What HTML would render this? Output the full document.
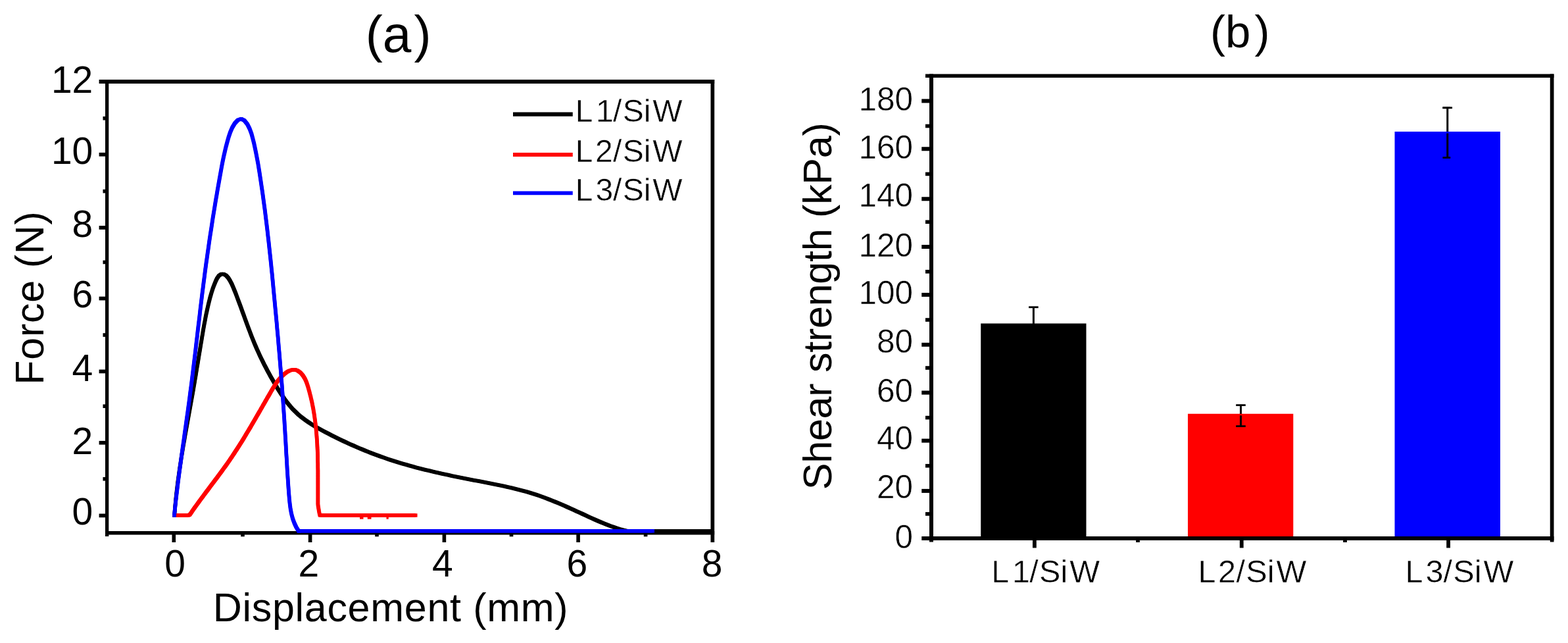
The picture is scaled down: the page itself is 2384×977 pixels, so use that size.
<!DOCTYPE html>
<html lang="en">
<head>
<meta charset="utf-8">
<title>Force-displacement curves and shear strength</title>
<style>
html, body { margin: 0; padding: 0; background: #ffffff; }
body { width: 2384px; height: 977px; overflow: hidden; }
svg { display: block; }
svg text { font-family: "Liberation Sans", "DejaVu Sans", sans-serif; }
</style>
</head>
<body>
<svg width="2384" height="977" viewBox="0 0 2384 977" shape-rendering="geometricPrecision">
<rect x="0" y="0" width="2384" height="977" fill="#ffffff"/>
<g id="chart-a">
<rect x="160.00" y="121.00" width="5.30" height="694.00" fill="#000"/>
<rect x="1080.50" y="121.00" width="5.70" height="703.00" fill="#000"/>
<rect x="150.60" y="121.00" width="935.60" height="6.00" fill="#000"/>
<rect x="160.00" y="807.00" width="926.20" height="5.50" fill="#000"/>
<rect x="150.60" y="780.55" width="9.90" height="5.70" fill="#000"/>
<rect x="156.50" y="724.95" width="4.00" height="5.60" fill="#000"/>
<rect x="150.60" y="669.90" width="9.90" height="5.70" fill="#000"/>
<rect x="156.50" y="614.40" width="4.00" height="5.60" fill="#000"/>
<rect x="150.60" y="561.55" width="9.90" height="5.70" fill="#000"/>
<rect x="156.50" y="506.20" width="4.00" height="5.60" fill="#000"/>
<rect x="150.60" y="450.65" width="9.90" height="5.70" fill="#000"/>
<rect x="156.50" y="395.60" width="4.00" height="5.60" fill="#000"/>
<rect x="150.60" y="343.05" width="9.90" height="5.70" fill="#000"/>
<rect x="156.50" y="287.80" width="4.00" height="5.60" fill="#000"/>
<rect x="150.60" y="231.90" width="9.90" height="5.70" fill="#000"/>
<rect x="156.50" y="176.95" width="4.00" height="5.60" fill="#000"/>
<rect x="261.50" y="812.00" width="5.60" height="12.00" fill="#000"/>
<rect x="366.20" y="812.00" width="5.60" height="3.30" fill="#000"/>
<rect x="468.80" y="812.00" width="5.60" height="12.00" fill="#000"/>
<rect x="570.20" y="812.00" width="5.60" height="3.30" fill="#000"/>
<rect x="672.60" y="812.00" width="5.60" height="12.00" fill="#000"/>
<rect x="774.70" y="812.00" width="5.60" height="3.30" fill="#000"/>
<rect x="876.30" y="812.00" width="5.60" height="12.00" fill="#000"/>
<rect x="978.80" y="812.00" width="5.60" height="3.30" fill="#000"/>
<g fill="none" stroke="#000" stroke-width="3.00" stroke-linejoin="round" stroke-linecap="square">
<polyline points="265.2,783.0 265.6,778.0 266.0,772.9 266.4,767.8 266.9,762.8 267.4,757.7 267.9,752.7 268.5,747.6 269.1,742.6 269.7,737.5 270.3,732.5 271.0,727.5 271.7,722.4 272.4,717.4 273.1,712.4 273.9,707.3 274.7,702.3 275.4,697.3 276.2,692.3 277.1,687.3 277.9,682.3 278.7,677.2 279.6,672.2 280.5,667.2 281.3,662.2 282.2,657.2 283.1,652.2 284.0,647.2 284.9,642.2 285.8,637.2 286.7,632.2 287.6,627.2 288.5,622.2 289.4,617.2 290.3,612.2 291.2,607.2 292.1,602.2 293.0,597.2 293.9,592.2 294.7,587.2 295.6,582.2 296.4,577.2 297.3,572.2 298.1,567.2 298.9,562.2 299.7,557.2 300.6,552.2 301.4,547.2 302.2,542.2 303.0,537.2 303.9,532.1 304.7,527.1 305.5,522.1 306.4,517.1 307.2,512.0 308.1,507.0 308.9,501.9 309.8,496.9 310.7,491.9 311.7,486.9 312.6,481.9 313.6,476.9 314.7,472.0 315.8,467.0 316.9,462.1 318.1,457.3 319.3,452.5 320.7,447.7 322.1,442.9 323.7,438.0 325.6,433.0 327.7,427.8 330.1,422.8 333.0,418.7 336.4,416.5 340.2,416.5 343.9,418.6 347.2,422.4 350.0,426.9 352.4,431.5 354.4,436.2 356.4,441.0 358.3,445.7 360.1,450.5 361.9,455.3 363.7,460.1 365.5,464.9 367.2,469.6 368.9,474.4 370.7,479.2 372.4,484.0 374.2,488.8 375.9,493.5 377.7,498.3 379.5,503.0 381.3,507.8 383.1,512.5 385.0,517.2 386.9,521.8 388.9,526.5 390.9,531.1 393.0,535.7 395.1,540.3 397.3,544.9 399.6,549.5 401.8,554.0 404.2,558.5 406.5,563.0 409.0,567.5 411.4,571.9 413.9,576.3 416.5,580.8 419.1,585.2 421.7,589.6 424.4,593.9 427.1,598.2 430.0,602.4 432.9,606.6 435.9,610.7 439.0,614.6 442.3,618.5 445.6,622.2 449.2,625.7 452.8,629.2 456.6,632.4 460.6,635.5 464.6,638.5 468.8,641.4 473.1,644.2 477.4,646.9 481.8,649.5 486.3,652.0 490.8,654.5 495.3,656.9 499.8,659.2 504.4,661.6 509.0,663.9 513.5,666.1 518.1,668.3 522.7,670.5 527.3,672.7 532.0,674.8 536.6,676.8 541.3,678.9 545.9,680.9 550.6,682.8 555.3,684.8 560.0,686.6 564.7,688.5 569.4,690.3 574.2,692.0 578.9,693.8 583.7,695.4 588.5,697.1 593.3,698.7 598.1,700.3 602.9,701.8 607.7,703.3 612.6,704.7 617.5,706.1 622.4,707.5 627.2,708.8 632.1,710.2 637.1,711.4 642.0,712.7 646.9,713.9 651.9,715.1 656.8,716.3 661.8,717.4 666.7,718.6 671.7,719.7 676.7,720.8 681.7,721.8 686.6,722.9 691.6,723.9 696.6,724.9 701.6,725.9 706.6,726.9 711.6,727.9 716.6,728.9 721.6,729.9 726.6,730.8 731.7,731.8 736.7,732.7 741.7,733.7 746.7,734.7 751.6,735.7 756.6,736.7 761.6,737.7 766.6,738.8 771.5,739.9 776.5,741.0 781.4,742.2 786.3,743.4 791.2,744.7 796.1,746.0 801.0,747.3 805.9,748.8 810.7,750.3 815.5,751.8 820.3,753.4 825.1,755.1 829.8,756.9 834.6,758.7 839.3,760.6 844.0,762.5 848.7,764.4 853.4,766.4 858.1,768.4 862.7,770.5 867.4,772.6 872.0,774.7 876.6,776.8 881.3,778.9 885.9,781.0 890.5,783.2 895.1,785.3 899.7,787.4 904.4,789.5 909.0,791.5 913.7,793.5 918.3,795.4 923.0,797.3 927.8,799.1 932.6,800.8 937.4,802.4 942.2,803.9 947.1,805.3 952.1,806.5 957.2,807.7" transform="translate(-1.3,-1.3)"/>
<polyline points="265.2,783.0 265.6,778.0 266.0,772.9 266.4,767.8 266.9,762.8 267.4,757.7 267.9,752.7 268.5,747.6 269.1,742.6 269.7,737.5 270.3,732.5 271.0,727.5 271.7,722.4 272.4,717.4 273.1,712.4 273.9,707.3 274.7,702.3 275.4,697.3 276.2,692.3 277.1,687.3 277.9,682.3 278.7,677.2 279.6,672.2 280.5,667.2 281.3,662.2 282.2,657.2 283.1,652.2 284.0,647.2 284.9,642.2 285.8,637.2 286.7,632.2 287.6,627.2 288.5,622.2 289.4,617.2 290.3,612.2 291.2,607.2 292.1,602.2 293.0,597.2 293.9,592.2 294.7,587.2 295.6,582.2 296.4,577.2 297.3,572.2 298.1,567.2 298.9,562.2 299.7,557.2 300.6,552.2 301.4,547.2 302.2,542.2 303.0,537.2 303.9,532.1 304.7,527.1 305.5,522.1 306.4,517.1 307.2,512.0 308.1,507.0 308.9,501.9 309.8,496.9 310.7,491.9 311.7,486.9 312.6,481.9 313.6,476.9 314.7,472.0 315.8,467.0 316.9,462.1 318.1,457.3 319.3,452.5 320.7,447.7 322.1,442.9 323.7,438.0 325.6,433.0 327.7,427.8 330.1,422.8 333.0,418.7 336.4,416.5 340.2,416.5 343.9,418.6 347.2,422.4 350.0,426.9 352.4,431.5 354.4,436.2 356.4,441.0 358.3,445.7 360.1,450.5 361.9,455.3 363.7,460.1 365.5,464.9 367.2,469.6 368.9,474.4 370.7,479.2 372.4,484.0 374.2,488.8 375.9,493.5 377.7,498.3 379.5,503.0 381.3,507.8 383.1,512.5 385.0,517.2 386.9,521.8 388.9,526.5 390.9,531.1 393.0,535.7 395.1,540.3 397.3,544.9 399.6,549.5 401.8,554.0 404.2,558.5 406.5,563.0 409.0,567.5 411.4,571.9 413.9,576.3 416.5,580.8 419.1,585.2 421.7,589.6 424.4,593.9 427.1,598.2 430.0,602.4 432.9,606.6 435.9,610.7 439.0,614.6 442.3,618.5 445.6,622.2 449.2,625.7 452.8,629.2 456.6,632.4 460.6,635.5 464.6,638.5 468.8,641.4 473.1,644.2 477.4,646.9 481.8,649.5 486.3,652.0 490.8,654.5 495.3,656.9 499.8,659.2 504.4,661.6 509.0,663.9 513.5,666.1 518.1,668.3 522.7,670.5 527.3,672.7 532.0,674.8 536.6,676.8 541.3,678.9 545.9,680.9 550.6,682.8 555.3,684.8 560.0,686.6 564.7,688.5 569.4,690.3 574.2,692.0 578.9,693.8 583.7,695.4 588.5,697.1 593.3,698.7 598.1,700.3 602.9,701.8 607.7,703.3 612.6,704.7 617.5,706.1 622.4,707.5 627.2,708.8 632.1,710.2 637.1,711.4 642.0,712.7 646.9,713.9 651.9,715.1 656.8,716.3 661.8,717.4 666.7,718.6 671.7,719.7 676.7,720.8 681.7,721.8 686.6,722.9 691.6,723.9 696.6,724.9 701.6,725.9 706.6,726.9 711.6,727.9 716.6,728.9 721.6,729.9 726.6,730.8 731.7,731.8 736.7,732.7 741.7,733.7 746.7,734.7 751.6,735.7 756.6,736.7 761.6,737.7 766.6,738.8 771.5,739.9 776.5,741.0 781.4,742.2 786.3,743.4 791.2,744.7 796.1,746.0 801.0,747.3 805.9,748.8 810.7,750.3 815.5,751.8 820.3,753.4 825.1,755.1 829.8,756.9 834.6,758.7 839.3,760.6 844.0,762.5 848.7,764.4 853.4,766.4 858.1,768.4 862.7,770.5 867.4,772.6 872.0,774.7 876.6,776.8 881.3,778.9 885.9,781.0 890.5,783.2 895.1,785.3 899.7,787.4 904.4,789.5 909.0,791.5 913.7,793.5 918.3,795.4 923.0,797.3 927.8,799.1 932.6,800.8 937.4,802.4 942.2,803.9 947.1,805.3 952.1,806.5 957.2,807.7" transform="translate(1.3,-1.3)"/>
<polyline points="265.2,783.0 265.6,778.0 266.0,772.9 266.4,767.8 266.9,762.8 267.4,757.7 267.9,752.7 268.5,747.6 269.1,742.6 269.7,737.5 270.3,732.5 271.0,727.5 271.7,722.4 272.4,717.4 273.1,712.4 273.9,707.3 274.7,702.3 275.4,697.3 276.2,692.3 277.1,687.3 277.9,682.3 278.7,677.2 279.6,672.2 280.5,667.2 281.3,662.2 282.2,657.2 283.1,652.2 284.0,647.2 284.9,642.2 285.8,637.2 286.7,632.2 287.6,627.2 288.5,622.2 289.4,617.2 290.3,612.2 291.2,607.2 292.1,602.2 293.0,597.2 293.9,592.2 294.7,587.2 295.6,582.2 296.4,577.2 297.3,572.2 298.1,567.2 298.9,562.2 299.7,557.2 300.6,552.2 301.4,547.2 302.2,542.2 303.0,537.2 303.9,532.1 304.7,527.1 305.5,522.1 306.4,517.1 307.2,512.0 308.1,507.0 308.9,501.9 309.8,496.9 310.7,491.9 311.7,486.9 312.6,481.9 313.6,476.9 314.7,472.0 315.8,467.0 316.9,462.1 318.1,457.3 319.3,452.5 320.7,447.7 322.1,442.9 323.7,438.0 325.6,433.0 327.7,427.8 330.1,422.8 333.0,418.7 336.4,416.5 340.2,416.5 343.9,418.6 347.2,422.4 350.0,426.9 352.4,431.5 354.4,436.2 356.4,441.0 358.3,445.7 360.1,450.5 361.9,455.3 363.7,460.1 365.5,464.9 367.2,469.6 368.9,474.4 370.7,479.2 372.4,484.0 374.2,488.8 375.9,493.5 377.7,498.3 379.5,503.0 381.3,507.8 383.1,512.5 385.0,517.2 386.9,521.8 388.9,526.5 390.9,531.1 393.0,535.7 395.1,540.3 397.3,544.9 399.6,549.5 401.8,554.0 404.2,558.5 406.5,563.0 409.0,567.5 411.4,571.9 413.9,576.3 416.5,580.8 419.1,585.2 421.7,589.6 424.4,593.9 427.1,598.2 430.0,602.4 432.9,606.6 435.9,610.7 439.0,614.6 442.3,618.5 445.6,622.2 449.2,625.7 452.8,629.2 456.6,632.4 460.6,635.5 464.6,638.5 468.8,641.4 473.1,644.2 477.4,646.9 481.8,649.5 486.3,652.0 490.8,654.5 495.3,656.9 499.8,659.2 504.4,661.6 509.0,663.9 513.5,666.1 518.1,668.3 522.7,670.5 527.3,672.7 532.0,674.8 536.6,676.8 541.3,678.9 545.9,680.9 550.6,682.8 555.3,684.8 560.0,686.6 564.7,688.5 569.4,690.3 574.2,692.0 578.9,693.8 583.7,695.4 588.5,697.1 593.3,698.7 598.1,700.3 602.9,701.8 607.7,703.3 612.6,704.7 617.5,706.1 622.4,707.5 627.2,708.8 632.1,710.2 637.1,711.4 642.0,712.7 646.9,713.9 651.9,715.1 656.8,716.3 661.8,717.4 666.7,718.6 671.7,719.7 676.7,720.8 681.7,721.8 686.6,722.9 691.6,723.9 696.6,724.9 701.6,725.9 706.6,726.9 711.6,727.9 716.6,728.9 721.6,729.9 726.6,730.8 731.7,731.8 736.7,732.7 741.7,733.7 746.7,734.7 751.6,735.7 756.6,736.7 761.6,737.7 766.6,738.8 771.5,739.9 776.5,741.0 781.4,742.2 786.3,743.4 791.2,744.7 796.1,746.0 801.0,747.3 805.9,748.8 810.7,750.3 815.5,751.8 820.3,753.4 825.1,755.1 829.8,756.9 834.6,758.7 839.3,760.6 844.0,762.5 848.7,764.4 853.4,766.4 858.1,768.4 862.7,770.5 867.4,772.6 872.0,774.7 876.6,776.8 881.3,778.9 885.9,781.0 890.5,783.2 895.1,785.3 899.7,787.4 904.4,789.5 909.0,791.5 913.7,793.5 918.3,795.4 923.0,797.3 927.8,799.1 932.6,800.8 937.4,802.4 942.2,803.9 947.1,805.3 952.1,806.5 957.2,807.7" transform="translate(-1.3,1.3)"/>
<polyline points="265.2,783.0 265.6,778.0 266.0,772.9 266.4,767.8 266.9,762.8 267.4,757.7 267.9,752.7 268.5,747.6 269.1,742.6 269.7,737.5 270.3,732.5 271.0,727.5 271.7,722.4 272.4,717.4 273.1,712.4 273.9,707.3 274.7,702.3 275.4,697.3 276.2,692.3 277.1,687.3 277.9,682.3 278.7,677.2 279.6,672.2 280.5,667.2 281.3,662.2 282.2,657.2 283.1,652.2 284.0,647.2 284.9,642.2 285.8,637.2 286.7,632.2 287.6,627.2 288.5,622.2 289.4,617.2 290.3,612.2 291.2,607.2 292.1,602.2 293.0,597.2 293.9,592.2 294.7,587.2 295.6,582.2 296.4,577.2 297.3,572.2 298.1,567.2 298.9,562.2 299.7,557.2 300.6,552.2 301.4,547.2 302.2,542.2 303.0,537.2 303.9,532.1 304.7,527.1 305.5,522.1 306.4,517.1 307.2,512.0 308.1,507.0 308.9,501.9 309.8,496.9 310.7,491.9 311.7,486.9 312.6,481.9 313.6,476.9 314.7,472.0 315.8,467.0 316.9,462.1 318.1,457.3 319.3,452.5 320.7,447.7 322.1,442.9 323.7,438.0 325.6,433.0 327.7,427.8 330.1,422.8 333.0,418.7 336.4,416.5 340.2,416.5 343.9,418.6 347.2,422.4 350.0,426.9 352.4,431.5 354.4,436.2 356.4,441.0 358.3,445.7 360.1,450.5 361.9,455.3 363.7,460.1 365.5,464.9 367.2,469.6 368.9,474.4 370.7,479.2 372.4,484.0 374.2,488.8 375.9,493.5 377.7,498.3 379.5,503.0 381.3,507.8 383.1,512.5 385.0,517.2 386.9,521.8 388.9,526.5 390.9,531.1 393.0,535.7 395.1,540.3 397.3,544.9 399.6,549.5 401.8,554.0 404.2,558.5 406.5,563.0 409.0,567.5 411.4,571.9 413.9,576.3 416.5,580.8 419.1,585.2 421.7,589.6 424.4,593.9 427.1,598.2 430.0,602.4 432.9,606.6 435.9,610.7 439.0,614.6 442.3,618.5 445.6,622.2 449.2,625.7 452.8,629.2 456.6,632.4 460.6,635.5 464.6,638.5 468.8,641.4 473.1,644.2 477.4,646.9 481.8,649.5 486.3,652.0 490.8,654.5 495.3,656.9 499.8,659.2 504.4,661.6 509.0,663.9 513.5,666.1 518.1,668.3 522.7,670.5 527.3,672.7 532.0,674.8 536.6,676.8 541.3,678.9 545.9,680.9 550.6,682.8 555.3,684.8 560.0,686.6 564.7,688.5 569.4,690.3 574.2,692.0 578.9,693.8 583.7,695.4 588.5,697.1 593.3,698.7 598.1,700.3 602.9,701.8 607.7,703.3 612.6,704.7 617.5,706.1 622.4,707.5 627.2,708.8 632.1,710.2 637.1,711.4 642.0,712.7 646.9,713.9 651.9,715.1 656.8,716.3 661.8,717.4 666.7,718.6 671.7,719.7 676.7,720.8 681.7,721.8 686.6,722.9 691.6,723.9 696.6,724.9 701.6,725.9 706.6,726.9 711.6,727.9 716.6,728.9 721.6,729.9 726.6,730.8 731.7,731.8 736.7,732.7 741.7,733.7 746.7,734.7 751.6,735.7 756.6,736.7 761.6,737.7 766.6,738.8 771.5,739.9 776.5,741.0 781.4,742.2 786.3,743.4 791.2,744.7 796.1,746.0 801.0,747.3 805.9,748.8 810.7,750.3 815.5,751.8 820.3,753.4 825.1,755.1 829.8,756.9 834.6,758.7 839.3,760.6 844.0,762.5 848.7,764.4 853.4,766.4 858.1,768.4 862.7,770.5 867.4,772.6 872.0,774.7 876.6,776.8 881.3,778.9 885.9,781.0 890.5,783.2 895.1,785.3 899.7,787.4 904.4,789.5 909.0,791.5 913.7,793.5 918.3,795.4 923.0,797.3 927.8,799.1 932.6,800.8 937.4,802.4 942.2,803.9 947.1,805.3 952.1,806.5 957.2,807.7" transform="translate(1.3,1.3)"/>
</g>
<g fill="none" stroke="#000" stroke-width="3.00" stroke-linejoin="round" stroke-linecap="square">
<polyline points="990.0,807.0 1083.0,807.0" transform="translate(-1.3,-1.3)"/>
<polyline points="990.0,807.0 1083.0,807.0" transform="translate(1.3,-1.3)"/>
<polyline points="990.0,807.0 1083.0,807.0" transform="translate(-1.3,1.3)"/>
<polyline points="990.0,807.0 1083.0,807.0" transform="translate(1.3,1.3)"/>
</g>
<g fill="none" stroke="#ff0000" stroke-width="3.00" stroke-linejoin="round" stroke-linecap="square">
<polyline points="265.0,783.0 286.5,783.0 288.6,782.0 290.5,779.3 292.3,776.6 294.2,773.9 296.1,771.3 298.0,768.6 300.0,765.9 301.9,763.3 303.8,760.6 305.8,757.9 307.8,755.3 309.7,752.6 311.7,750.0 313.7,747.3 315.7,744.7 317.7,742.0 319.6,739.4 321.6,736.8 323.6,734.1 325.6,731.5 327.6,728.8 329.6,726.2 331.6,723.5 333.5,720.9 335.5,718.2 337.5,715.5 339.4,712.9 341.3,710.2 343.3,707.5 345.2,704.8 347.1,702.1 349.0,699.4 350.8,696.7 352.7,694.0 354.5,691.2 356.3,688.5 358.1,685.7 359.9,683.0 361.7,680.2 363.5,677.4 365.2,674.7 367.0,671.9 368.7,669.1 370.4,666.3 372.1,663.5 373.8,660.7 375.5,657.8 377.2,655.0 378.9,652.2 380.6,649.4 382.2,646.5 383.9,643.7 385.6,640.8 387.2,638.0 388.9,635.1 390.5,632.3 392.2,629.4 393.8,626.6 395.5,623.7 397.1,620.8 398.8,618.0 400.4,615.1 402.1,612.2 403.7,609.4 405.4,606.5 407.0,603.6 408.7,600.8 410.4,597.9 412.0,595.0 413.7,592.2 415.4,589.3 417.2,586.5 419.0,583.7 420.8,580.9 422.8,578.2 424.9,575.7 427.1,573.2 429.5,570.8 432.0,568.5 434.7,566.4 437.6,564.5 440.5,563.1 443.4,562.1 446.3,561.7 449.2,561.9 451.9,562.9 454.4,564.4 456.9,566.3 459.1,568.7 461.1,571.3 462.8,574.1 464.4,577.1 465.7,580.2 466.9,583.4 467.9,586.6 468.9,589.8 469.8,593.1 470.7,596.3 471.5,599.6 472.4,602.9 473.1,606.1 473.9,609.4 474.6,612.6 475.2,615.9 475.9,619.1 476.5,622.4 477.0,625.6 477.6,628.9 478.1,632.2 478.5,635.4 479.0,638.7 479.4,641.9 479.8,645.2 480.2,648.5 480.5,651.7 480.8,655.0 481.1,658.3 481.4,661.5 481.6,664.8 481.9,668.1 482.1,671.4 482.3,674.6 482.4,677.9 482.6,681.2 482.7,684.5 482.9,687.7 483.0,691.0 483.1,694.3 483.1,697.6 483.2,700.9 483.3,704.2 483.3,707.5 483.3,710.8 483.4,714.0 483.4,717.3 483.4,720.6 483.4,724.0 483.4,727.3 483.4,730.6 483.4,733.9 483.4,737.2 483.4,740.5 483.4,743.8 483.4,747.1 483.4,750.5 483.4,753.8 483.4,757.1 483.4,760.4 483.4,763.8 483.4,767.1 485.2,778.0 486.3,783.0 631.7,783.0" transform="translate(-1.3,-1.3)"/>
<polyline points="265.0,783.0 286.5,783.0 288.6,782.0 290.5,779.3 292.3,776.6 294.2,773.9 296.1,771.3 298.0,768.6 300.0,765.9 301.9,763.3 303.8,760.6 305.8,757.9 307.8,755.3 309.7,752.6 311.7,750.0 313.7,747.3 315.7,744.7 317.7,742.0 319.6,739.4 321.6,736.8 323.6,734.1 325.6,731.5 327.6,728.8 329.6,726.2 331.6,723.5 333.5,720.9 335.5,718.2 337.5,715.5 339.4,712.9 341.3,710.2 343.3,707.5 345.2,704.8 347.1,702.1 349.0,699.4 350.8,696.7 352.7,694.0 354.5,691.2 356.3,688.5 358.1,685.7 359.9,683.0 361.7,680.2 363.5,677.4 365.2,674.7 367.0,671.9 368.7,669.1 370.4,666.3 372.1,663.5 373.8,660.7 375.5,657.8 377.2,655.0 378.9,652.2 380.6,649.4 382.2,646.5 383.9,643.7 385.6,640.8 387.2,638.0 388.9,635.1 390.5,632.3 392.2,629.4 393.8,626.6 395.5,623.7 397.1,620.8 398.8,618.0 400.4,615.1 402.1,612.2 403.7,609.4 405.4,606.5 407.0,603.6 408.7,600.8 410.4,597.9 412.0,595.0 413.7,592.2 415.4,589.3 417.2,586.5 419.0,583.7 420.8,580.9 422.8,578.2 424.9,575.7 427.1,573.2 429.5,570.8 432.0,568.5 434.7,566.4 437.6,564.5 440.5,563.1 443.4,562.1 446.3,561.7 449.2,561.9 451.9,562.9 454.4,564.4 456.9,566.3 459.1,568.7 461.1,571.3 462.8,574.1 464.4,577.1 465.7,580.2 466.9,583.4 467.9,586.6 468.9,589.8 469.8,593.1 470.7,596.3 471.5,599.6 472.4,602.9 473.1,606.1 473.9,609.4 474.6,612.6 475.2,615.9 475.9,619.1 476.5,622.4 477.0,625.6 477.6,628.9 478.1,632.2 478.5,635.4 479.0,638.7 479.4,641.9 479.8,645.2 480.2,648.5 480.5,651.7 480.8,655.0 481.1,658.3 481.4,661.5 481.6,664.8 481.9,668.1 482.1,671.4 482.3,674.6 482.4,677.9 482.6,681.2 482.7,684.5 482.9,687.7 483.0,691.0 483.1,694.3 483.1,697.6 483.2,700.9 483.3,704.2 483.3,707.5 483.3,710.8 483.4,714.0 483.4,717.3 483.4,720.6 483.4,724.0 483.4,727.3 483.4,730.6 483.4,733.9 483.4,737.2 483.4,740.5 483.4,743.8 483.4,747.1 483.4,750.5 483.4,753.8 483.4,757.1 483.4,760.4 483.4,763.8 483.4,767.1 485.2,778.0 486.3,783.0 631.7,783.0" transform="translate(1.3,-1.3)"/>
<polyline points="265.0,783.0 286.5,783.0 288.6,782.0 290.5,779.3 292.3,776.6 294.2,773.9 296.1,771.3 298.0,768.6 300.0,765.9 301.9,763.3 303.8,760.6 305.8,757.9 307.8,755.3 309.7,752.6 311.7,750.0 313.7,747.3 315.7,744.7 317.7,742.0 319.6,739.4 321.6,736.8 323.6,734.1 325.6,731.5 327.6,728.8 329.6,726.2 331.6,723.5 333.5,720.9 335.5,718.2 337.5,715.5 339.4,712.9 341.3,710.2 343.3,707.5 345.2,704.8 347.1,702.1 349.0,699.4 350.8,696.7 352.7,694.0 354.5,691.2 356.3,688.5 358.1,685.7 359.9,683.0 361.7,680.2 363.5,677.4 365.2,674.7 367.0,671.9 368.7,669.1 370.4,666.3 372.1,663.5 373.8,660.7 375.5,657.8 377.2,655.0 378.9,652.2 380.6,649.4 382.2,646.5 383.9,643.7 385.6,640.8 387.2,638.0 388.9,635.1 390.5,632.3 392.2,629.4 393.8,626.6 395.5,623.7 397.1,620.8 398.8,618.0 400.4,615.1 402.1,612.2 403.7,609.4 405.4,606.5 407.0,603.6 408.7,600.8 410.4,597.9 412.0,595.0 413.7,592.2 415.4,589.3 417.2,586.5 419.0,583.7 420.8,580.9 422.8,578.2 424.9,575.7 427.1,573.2 429.5,570.8 432.0,568.5 434.7,566.4 437.6,564.5 440.5,563.1 443.4,562.1 446.3,561.7 449.2,561.9 451.9,562.9 454.4,564.4 456.9,566.3 459.1,568.7 461.1,571.3 462.8,574.1 464.4,577.1 465.7,580.2 466.9,583.4 467.9,586.6 468.9,589.8 469.8,593.1 470.7,596.3 471.5,599.6 472.4,602.9 473.1,606.1 473.9,609.4 474.6,612.6 475.2,615.9 475.9,619.1 476.5,622.4 477.0,625.6 477.6,628.9 478.1,632.2 478.5,635.4 479.0,638.7 479.4,641.9 479.8,645.2 480.2,648.5 480.5,651.7 480.8,655.0 481.1,658.3 481.4,661.5 481.6,664.8 481.9,668.1 482.1,671.4 482.3,674.6 482.4,677.9 482.6,681.2 482.7,684.5 482.9,687.7 483.0,691.0 483.1,694.3 483.1,697.6 483.2,700.9 483.3,704.2 483.3,707.5 483.3,710.8 483.4,714.0 483.4,717.3 483.4,720.6 483.4,724.0 483.4,727.3 483.4,730.6 483.4,733.9 483.4,737.2 483.4,740.5 483.4,743.8 483.4,747.1 483.4,750.5 483.4,753.8 483.4,757.1 483.4,760.4 483.4,763.8 483.4,767.1 485.2,778.0 486.3,783.0 631.7,783.0" transform="translate(-1.3,1.3)"/>
<polyline points="265.0,783.0 286.5,783.0 288.6,782.0 290.5,779.3 292.3,776.6 294.2,773.9 296.1,771.3 298.0,768.6 300.0,765.9 301.9,763.3 303.8,760.6 305.8,757.9 307.8,755.3 309.7,752.6 311.7,750.0 313.7,747.3 315.7,744.7 317.7,742.0 319.6,739.4 321.6,736.8 323.6,734.1 325.6,731.5 327.6,728.8 329.6,726.2 331.6,723.5 333.5,720.9 335.5,718.2 337.5,715.5 339.4,712.9 341.3,710.2 343.3,707.5 345.2,704.8 347.1,702.1 349.0,699.4 350.8,696.7 352.7,694.0 354.5,691.2 356.3,688.5 358.1,685.7 359.9,683.0 361.7,680.2 363.5,677.4 365.2,674.7 367.0,671.9 368.7,669.1 370.4,666.3 372.1,663.5 373.8,660.7 375.5,657.8 377.2,655.0 378.9,652.2 380.6,649.4 382.2,646.5 383.9,643.7 385.6,640.8 387.2,638.0 388.9,635.1 390.5,632.3 392.2,629.4 393.8,626.6 395.5,623.7 397.1,620.8 398.8,618.0 400.4,615.1 402.1,612.2 403.7,609.4 405.4,606.5 407.0,603.6 408.7,600.8 410.4,597.9 412.0,595.0 413.7,592.2 415.4,589.3 417.2,586.5 419.0,583.7 420.8,580.9 422.8,578.2 424.9,575.7 427.1,573.2 429.5,570.8 432.0,568.5 434.7,566.4 437.6,564.5 440.5,563.1 443.4,562.1 446.3,561.7 449.2,561.9 451.9,562.9 454.4,564.4 456.9,566.3 459.1,568.7 461.1,571.3 462.8,574.1 464.4,577.1 465.7,580.2 466.9,583.4 467.9,586.6 468.9,589.8 469.8,593.1 470.7,596.3 471.5,599.6 472.4,602.9 473.1,606.1 473.9,609.4 474.6,612.6 475.2,615.9 475.9,619.1 476.5,622.4 477.0,625.6 477.6,628.9 478.1,632.2 478.5,635.4 479.0,638.7 479.4,641.9 479.8,645.2 480.2,648.5 480.5,651.7 480.8,655.0 481.1,658.3 481.4,661.5 481.6,664.8 481.9,668.1 482.1,671.4 482.3,674.6 482.4,677.9 482.6,681.2 482.7,684.5 482.9,687.7 483.0,691.0 483.1,694.3 483.1,697.6 483.2,700.9 483.3,704.2 483.3,707.5 483.3,710.8 483.4,714.0 483.4,717.3 483.4,720.6 483.4,724.0 483.4,727.3 483.4,730.6 483.4,733.9 483.4,737.2 483.4,740.5 483.4,743.8 483.4,747.1 483.4,750.5 483.4,753.8 483.4,757.1 483.4,760.4 483.4,763.8 483.4,767.1 485.2,778.0 486.3,783.0 631.7,783.0" transform="translate(1.3,1.3)"/>
</g>
<g fill="none" stroke="#0000ff" stroke-width="3.00" stroke-linejoin="round" stroke-linecap="square">
<polyline points="265.0,783.0 265.7,775.6 266.5,768.2 267.3,760.8 268.2,753.4 269.1,746.1 270.0,738.7 270.9,731.3 271.8,723.9 272.8,716.5 273.8,709.2 274.8,701.8 275.8,694.4 276.8,687.0 277.8,679.6 278.9,672.3 279.9,664.9 280.9,657.5 282.0,650.1 283.0,642.7 284.0,635.4 285.1,628.0 286.1,620.6 287.1,613.2 288.1,605.9 289.0,598.5 290.0,591.1 291.0,583.7 291.9,576.3 292.8,569.0 293.7,561.6 294.6,554.2 295.5,546.8 296.4,539.4 297.3,532.1 298.1,524.7 299.0,517.3 299.9,509.9 300.7,502.5 301.6,495.1 302.5,487.8 303.4,480.4 304.2,473.0 305.1,465.6 306.0,458.2 306.9,450.8 307.8,443.4 308.8,436.0 309.7,428.6 310.7,421.3 311.6,413.9 312.6,406.5 313.6,399.1 314.7,391.7 315.7,384.3 316.8,376.9 317.8,369.5 318.9,362.1 320.0,354.7 321.2,347.4 322.3,340.0 323.4,332.6 324.6,325.3 325.8,318.0 327.0,310.6 328.2,303.3 329.5,296.0 330.7,288.7 332.0,281.4 333.3,274.1 334.6,266.9 335.9,259.6 337.2,252.4 338.6,245.1 340.1,237.9 341.8,230.5 343.5,223.2 345.5,215.8 347.6,208.3 350.1,200.9 353.1,193.8 357.0,187.4 361.7,182.4 366.7,180.6 371.7,183.2 376.1,188.8 379.6,195.7 382.3,203.0 384.3,210.4 386.2,217.9 387.8,225.3 389.3,232.7 390.7,240.0 392.1,247.3 393.3,254.6 394.5,261.9 395.6,269.2 396.7,276.5 397.8,283.9 398.9,291.2 399.9,298.5 400.9,305.9 401.9,313.2 402.9,320.6 403.8,328.0 404.7,335.3 405.6,342.7 406.5,350.1 407.3,357.5 408.2,364.9 409.0,372.3 409.8,379.7 410.6,387.1 411.4,394.5 412.2,402.0 412.9,409.4 413.7,416.8 414.4,424.2 415.1,431.6 415.8,439.1 416.5,446.5 417.2,453.9 417.9,461.3 418.6,468.8 419.3,476.2 420.0,483.6 420.7,491.0 421.3,498.4 422.0,505.9 422.7,513.3 423.3,520.7 423.9,528.1 424.6,535.5 425.2,542.9 425.8,550.3 426.4,557.8 427.0,565.2 427.6,572.6 428.2,580.0 428.8,587.4 429.3,594.8 429.8,602.2 430.4,609.6 430.9,617.1 431.4,624.5 431.9,631.9 432.4,639.3 432.8,646.7 433.3,654.1 433.7,661.5 434.2,669.0 434.6,676.4 435.0,683.8 435.4,691.2 435.9,698.7 436.3,706.1 436.7,713.6 437.2,721.0 437.7,728.5 438.2,736.0 438.7,743.5 439.3,751.0 439.9,758.5 440.7,765.9 441.7,773.3 443.1,780.6 444.9,787.6 447.4,794.5 450.4,801.0 454.3,807.3 456.0,806.8 992.2,806.8" transform="translate(-1.3,-1.3)"/>
<polyline points="265.0,783.0 265.7,775.6 266.5,768.2 267.3,760.8 268.2,753.4 269.1,746.1 270.0,738.7 270.9,731.3 271.8,723.9 272.8,716.5 273.8,709.2 274.8,701.8 275.8,694.4 276.8,687.0 277.8,679.6 278.9,672.3 279.9,664.9 280.9,657.5 282.0,650.1 283.0,642.7 284.0,635.4 285.1,628.0 286.1,620.6 287.1,613.2 288.1,605.9 289.0,598.5 290.0,591.1 291.0,583.7 291.9,576.3 292.8,569.0 293.7,561.6 294.6,554.2 295.5,546.8 296.4,539.4 297.3,532.1 298.1,524.7 299.0,517.3 299.9,509.9 300.7,502.5 301.6,495.1 302.5,487.8 303.4,480.4 304.2,473.0 305.1,465.6 306.0,458.2 306.9,450.8 307.8,443.4 308.8,436.0 309.7,428.6 310.7,421.3 311.6,413.9 312.6,406.5 313.6,399.1 314.7,391.7 315.7,384.3 316.8,376.9 317.8,369.5 318.9,362.1 320.0,354.7 321.2,347.4 322.3,340.0 323.4,332.6 324.6,325.3 325.8,318.0 327.0,310.6 328.2,303.3 329.5,296.0 330.7,288.7 332.0,281.4 333.3,274.1 334.6,266.9 335.9,259.6 337.2,252.4 338.6,245.1 340.1,237.9 341.8,230.5 343.5,223.2 345.5,215.8 347.6,208.3 350.1,200.9 353.1,193.8 357.0,187.4 361.7,182.4 366.7,180.6 371.7,183.2 376.1,188.8 379.6,195.7 382.3,203.0 384.3,210.4 386.2,217.9 387.8,225.3 389.3,232.7 390.7,240.0 392.1,247.3 393.3,254.6 394.5,261.9 395.6,269.2 396.7,276.5 397.8,283.9 398.9,291.2 399.9,298.5 400.9,305.9 401.9,313.2 402.9,320.6 403.8,328.0 404.7,335.3 405.6,342.7 406.5,350.1 407.3,357.5 408.2,364.9 409.0,372.3 409.8,379.7 410.6,387.1 411.4,394.5 412.2,402.0 412.9,409.4 413.7,416.8 414.4,424.2 415.1,431.6 415.8,439.1 416.5,446.5 417.2,453.9 417.9,461.3 418.6,468.8 419.3,476.2 420.0,483.6 420.7,491.0 421.3,498.4 422.0,505.9 422.7,513.3 423.3,520.7 423.9,528.1 424.6,535.5 425.2,542.9 425.8,550.3 426.4,557.8 427.0,565.2 427.6,572.6 428.2,580.0 428.8,587.4 429.3,594.8 429.8,602.2 430.4,609.6 430.9,617.1 431.4,624.5 431.9,631.9 432.4,639.3 432.8,646.7 433.3,654.1 433.7,661.5 434.2,669.0 434.6,676.4 435.0,683.8 435.4,691.2 435.9,698.7 436.3,706.1 436.7,713.6 437.2,721.0 437.7,728.5 438.2,736.0 438.7,743.5 439.3,751.0 439.9,758.5 440.7,765.9 441.7,773.3 443.1,780.6 444.9,787.6 447.4,794.5 450.4,801.0 454.3,807.3 456.0,806.8 992.2,806.8" transform="translate(1.3,-1.3)"/>
<polyline points="265.0,783.0 265.7,775.6 266.5,768.2 267.3,760.8 268.2,753.4 269.1,746.1 270.0,738.7 270.9,731.3 271.8,723.9 272.8,716.5 273.8,709.2 274.8,701.8 275.8,694.4 276.8,687.0 277.8,679.6 278.9,672.3 279.9,664.9 280.9,657.5 282.0,650.1 283.0,642.7 284.0,635.4 285.1,628.0 286.1,620.6 287.1,613.2 288.1,605.9 289.0,598.5 290.0,591.1 291.0,583.7 291.9,576.3 292.8,569.0 293.7,561.6 294.6,554.2 295.5,546.8 296.4,539.4 297.3,532.1 298.1,524.7 299.0,517.3 299.9,509.9 300.7,502.5 301.6,495.1 302.5,487.8 303.4,480.4 304.2,473.0 305.1,465.6 306.0,458.2 306.9,450.8 307.8,443.4 308.8,436.0 309.7,428.6 310.7,421.3 311.6,413.9 312.6,406.5 313.6,399.1 314.7,391.7 315.7,384.3 316.8,376.9 317.8,369.5 318.9,362.1 320.0,354.7 321.2,347.4 322.3,340.0 323.4,332.6 324.6,325.3 325.8,318.0 327.0,310.6 328.2,303.3 329.5,296.0 330.7,288.7 332.0,281.4 333.3,274.1 334.6,266.9 335.9,259.6 337.2,252.4 338.6,245.1 340.1,237.9 341.8,230.5 343.5,223.2 345.5,215.8 347.6,208.3 350.1,200.9 353.1,193.8 357.0,187.4 361.7,182.4 366.7,180.6 371.7,183.2 376.1,188.8 379.6,195.7 382.3,203.0 384.3,210.4 386.2,217.9 387.8,225.3 389.3,232.7 390.7,240.0 392.1,247.3 393.3,254.6 394.5,261.9 395.6,269.2 396.7,276.5 397.8,283.9 398.9,291.2 399.9,298.5 400.9,305.9 401.9,313.2 402.9,320.6 403.8,328.0 404.7,335.3 405.6,342.7 406.5,350.1 407.3,357.5 408.2,364.9 409.0,372.3 409.8,379.7 410.6,387.1 411.4,394.5 412.2,402.0 412.9,409.4 413.7,416.8 414.4,424.2 415.1,431.6 415.8,439.1 416.5,446.5 417.2,453.9 417.9,461.3 418.6,468.8 419.3,476.2 420.0,483.6 420.7,491.0 421.3,498.4 422.0,505.9 422.7,513.3 423.3,520.7 423.9,528.1 424.6,535.5 425.2,542.9 425.8,550.3 426.4,557.8 427.0,565.2 427.6,572.6 428.2,580.0 428.8,587.4 429.3,594.8 429.8,602.2 430.4,609.6 430.9,617.1 431.4,624.5 431.9,631.9 432.4,639.3 432.8,646.7 433.3,654.1 433.7,661.5 434.2,669.0 434.6,676.4 435.0,683.8 435.4,691.2 435.9,698.7 436.3,706.1 436.7,713.6 437.2,721.0 437.7,728.5 438.2,736.0 438.7,743.5 439.3,751.0 439.9,758.5 440.7,765.9 441.7,773.3 443.1,780.6 444.9,787.6 447.4,794.5 450.4,801.0 454.3,807.3 456.0,806.8 992.2,806.8" transform="translate(-1.3,1.3)"/>
<polyline points="265.0,783.0 265.7,775.6 266.5,768.2 267.3,760.8 268.2,753.4 269.1,746.1 270.0,738.7 270.9,731.3 271.8,723.9 272.8,716.5 273.8,709.2 274.8,701.8 275.8,694.4 276.8,687.0 277.8,679.6 278.9,672.3 279.9,664.9 280.9,657.5 282.0,650.1 283.0,642.7 284.0,635.4 285.1,628.0 286.1,620.6 287.1,613.2 288.1,605.9 289.0,598.5 290.0,591.1 291.0,583.7 291.9,576.3 292.8,569.0 293.7,561.6 294.6,554.2 295.5,546.8 296.4,539.4 297.3,532.1 298.1,524.7 299.0,517.3 299.9,509.9 300.7,502.5 301.6,495.1 302.5,487.8 303.4,480.4 304.2,473.0 305.1,465.6 306.0,458.2 306.9,450.8 307.8,443.4 308.8,436.0 309.7,428.6 310.7,421.3 311.6,413.9 312.6,406.5 313.6,399.1 314.7,391.7 315.7,384.3 316.8,376.9 317.8,369.5 318.9,362.1 320.0,354.7 321.2,347.4 322.3,340.0 323.4,332.6 324.6,325.3 325.8,318.0 327.0,310.6 328.2,303.3 329.5,296.0 330.7,288.7 332.0,281.4 333.3,274.1 334.6,266.9 335.9,259.6 337.2,252.4 338.6,245.1 340.1,237.9 341.8,230.5 343.5,223.2 345.5,215.8 347.6,208.3 350.1,200.9 353.1,193.8 357.0,187.4 361.7,182.4 366.7,180.6 371.7,183.2 376.1,188.8 379.6,195.7 382.3,203.0 384.3,210.4 386.2,217.9 387.8,225.3 389.3,232.7 390.7,240.0 392.1,247.3 393.3,254.6 394.5,261.9 395.6,269.2 396.7,276.5 397.8,283.9 398.9,291.2 399.9,298.5 400.9,305.9 401.9,313.2 402.9,320.6 403.8,328.0 404.7,335.3 405.6,342.7 406.5,350.1 407.3,357.5 408.2,364.9 409.0,372.3 409.8,379.7 410.6,387.1 411.4,394.5 412.2,402.0 412.9,409.4 413.7,416.8 414.4,424.2 415.1,431.6 415.8,439.1 416.5,446.5 417.2,453.9 417.9,461.3 418.6,468.8 419.3,476.2 420.0,483.6 420.7,491.0 421.3,498.4 422.0,505.9 422.7,513.3 423.3,520.7 423.9,528.1 424.6,535.5 425.2,542.9 425.8,550.3 426.4,557.8 427.0,565.2 427.6,572.6 428.2,580.0 428.8,587.4 429.3,594.8 429.8,602.2 430.4,609.6 430.9,617.1 431.4,624.5 431.9,631.9 432.4,639.3 432.8,646.7 433.3,654.1 433.7,661.5 434.2,669.0 434.6,676.4 435.0,683.8 435.4,691.2 435.9,698.7 436.3,706.1 436.7,713.6 437.2,721.0 437.7,728.5 438.2,736.0 438.7,743.5 439.3,751.0 439.9,758.5 440.7,765.9 441.7,773.3 443.1,780.6 444.9,787.6 447.4,794.5 450.4,801.0 454.3,807.3 456.0,806.8 992.2,806.8" transform="translate(1.3,1.3)"/>
</g>
<rect x="547.00" y="785.00" width="5.50" height="3.75" fill="#ff0000"/>
<rect x="558.75" y="785.00" width="5.75" height="3.75" fill="#ff0000"/>
<rect x="587.50" y="785.00" width="3.25" height="3.75" fill="#ff0000"/>
<rect x="780.00" y="170.50" width="90.75" height="6.25" fill="#000"/>
<rect x="780.00" y="232.00" width="90.75" height="6.00" fill="#ff0000"/>
<rect x="780.00" y="290.50" width="90.75" height="5.75" fill="#0000ff"/>
<text x="874.80 906.10 932.10 946.80 978.80 992.30" y="185" font-size="48.0" text-anchor="start" fill="#000" stroke="#ffffff" stroke-width="0.5">L1/SiW</text>
<text x="874.80 905.00 932.10 946.80 978.80 992.30" y="246.25" font-size="48.0" text-anchor="start" fill="#000" stroke="#ffffff" stroke-width="0.5">L2/SiW</text>
<text x="874.80 905.50 932.10 946.80 978.80 992.30" y="304.5" font-size="48.0" text-anchor="start" fill="#000" stroke="#ffffff" stroke-width="0.5">L3/SiW</text>
<text x="141.3" y="140.7" font-size="57" text-anchor="end" fill="#000" >12</text>
<text x="141.3" y="249" font-size="57" text-anchor="end" fill="#000" >10</text>
<text x="141.3" y="359.75" font-size="57" text-anchor="end" fill="#000" >8</text>
<text x="141.3" y="467" font-size="57" text-anchor="end" fill="#000" >6</text>
<text x="141.3" y="579" font-size="57" text-anchor="end" fill="#000" >4</text>
<text x="141.3" y="690" font-size="57" text-anchor="end" fill="#000" >2</text>
<text x="141.3" y="797" font-size="57" text-anchor="end" fill="#000" >0</text>
<text x="266" y="876" font-size="57" text-anchor="middle" fill="#000" >0</text>
<text x="469.4" y="876" font-size="57" text-anchor="middle" fill="#000" >2</text>
<text x="672.75" y="876" font-size="57" text-anchor="middle" fill="#000" >4</text>
<text x="877.4" y="876" font-size="57" text-anchor="middle" fill="#000" >6</text>
<text x="1082.6" y="876" font-size="57" text-anchor="middle" fill="#000" >8</text>
<text x="323.7" y="943.8" font-size="61" text-anchor="start" fill="#000" textLength="540" lengthAdjust="spacing">Displacement (mm)</text>
<text transform="translate(66.4,584.8) rotate(-90)" font-size="61" fill="#000" textLength="263.7" lengthAdjust="spacing">Force (N)</text>
<text x="555.7 581.7 629.5" y="79" font-size="78.4" text-anchor="start" fill="#000" >(a)</text>
</g>
<g id="chart-b">
<rect x="1491.25" y="491.50" width="160.25" height="326.50" fill="#000"/>
<rect x="1806.00" y="628.75" width="160.30" height="189.25" fill="#ff0000"/>
<rect x="2120.50" y="200.00" width="160.50" height="618.00" fill="#0000ff"/>
<rect x="1413.00" y="112.50" width="6.00" height="711.00" fill="#000"/>
<rect x="2356.75" y="112.50" width="5.75" height="711.00" fill="#000"/>
<rect x="1407.00" y="112.50" width="955.50" height="5.50" fill="#000"/>
<rect x="1401.25" y="815.00" width="961.25" height="6.00" fill="#000"/>
<rect x="1401.25" y="150.40" width="12.75" height="6.00" fill="#000"/>
<rect x="1407.00" y="188.70" width="7.00" height="5.60" fill="#000"/>
<rect x="1401.25" y="223.25" width="12.75" height="6.00" fill="#000"/>
<rect x="1407.00" y="261.60" width="7.00" height="5.60" fill="#000"/>
<rect x="1401.25" y="299.25" width="12.75" height="6.00" fill="#000"/>
<rect x="1407.00" y="334.45" width="7.00" height="5.60" fill="#000"/>
<rect x="1401.25" y="372.00" width="12.75" height="6.00" fill="#000"/>
<rect x="1407.00" y="409.95" width="7.00" height="5.60" fill="#000"/>
<rect x="1401.25" y="444.90" width="12.75" height="6.00" fill="#000"/>
<rect x="1407.00" y="483.20" width="7.00" height="5.60" fill="#000"/>
<rect x="1401.25" y="520.75" width="12.75" height="6.00" fill="#000"/>
<rect x="1407.00" y="556.20" width="7.00" height="5.60" fill="#000"/>
<rect x="1401.25" y="593.60" width="12.75" height="6.00" fill="#000"/>
<rect x="1407.00" y="631.80" width="7.00" height="5.60" fill="#000"/>
<rect x="1401.25" y="666.60" width="12.75" height="6.00" fill="#000"/>
<rect x="1407.00" y="704.95" width="7.00" height="5.60" fill="#000"/>
<rect x="1401.25" y="742.90" width="12.75" height="6.00" fill="#000"/>
<rect x="1407.00" y="778.10" width="7.00" height="5.60" fill="#000"/>
<rect x="1570.00" y="820.00" width="5.80" height="12.50" fill="#000"/>
<rect x="1884.85" y="820.00" width="5.80" height="12.50" fill="#000"/>
<rect x="2199.20" y="820.00" width="5.80" height="12.50" fill="#000"/>
<rect x="1727.10" y="820.00" width="5.80" height="4.00" fill="#000"/>
<rect x="2042.10" y="820.00" width="5.80" height="4.00" fill="#000"/>
<rect x="1569.90" y="466.75" width="3.00" height="49.25" fill="#000"/>
<rect x="1564.10" y="465.35" width="14.60" height="2.80" fill="#000"/>
<rect x="1564.10" y="514.60" width="14.60" height="2.80" fill="#000"/>
<rect x="1885.00" y="615.60" width="3.00" height="32.00" fill="#000"/>
<rect x="1879.20" y="614.20" width="14.60" height="2.80" fill="#000"/>
<rect x="1879.20" y="646.20" width="14.60" height="2.80" fill="#000"/>
<rect x="2199.25" y="163.75" width="3.00" height="75.75" fill="#000"/>
<rect x="2193.45" y="162.35" width="11.80" height="2.80" fill="#000"/>
<rect x="2193.45" y="238.10" width="11.80" height="2.80" fill="#000"/>
<rect x="2193.45" y="162.35" width="14.60" height="2.80" fill="#000"/>
<rect x="1884.50" y="628.75" width="4.00" height="2.55" fill="#ff0000"/>
<rect x="2198.70" y="200.00" width="4.10" height="2.60" fill="#0000ff"/>
<text x="1388" y="168.2" font-size="49.5" text-anchor="end" fill="#000" stroke="#ffffff" stroke-width="0.5">180</text>
<text x="1388" y="240.7" font-size="49.5" text-anchor="end" fill="#000" stroke="#ffffff" stroke-width="0.5">160</text>
<text x="1388" y="314" font-size="49.5" text-anchor="end" fill="#000" stroke="#ffffff" stroke-width="0.5">140</text>
<text x="1388" y="389.7" font-size="49.5" text-anchor="end" fill="#000" stroke="#ffffff" stroke-width="0.5">120</text>
<text x="1388" y="462" font-size="49.5" text-anchor="end" fill="#000" stroke="#ffffff" stroke-width="0.5">100</text>
<text x="1388" y="535.7" font-size="49.5" text-anchor="end" fill="#000" stroke="#ffffff" stroke-width="0.5">80</text>
<text x="1388" y="610.7" font-size="49.5" text-anchor="end" fill="#000" stroke="#ffffff" stroke-width="0.5">60</text>
<text x="1388" y="683.2" font-size="49.5" text-anchor="end" fill="#000" stroke="#ffffff" stroke-width="0.5">40</text>
<text x="1388" y="757.2" font-size="49.5" text-anchor="end" fill="#000" stroke="#ffffff" stroke-width="0.5">20</text>
<text x="1388" y="832.5" font-size="49.5" text-anchor="end" fill="#000" stroke="#ffffff" stroke-width="0.5">0</text>
<text x="1507.25 1538.93 1565.24 1580.12 1612.50 1626.16" y="885" font-size="48.58" text-anchor="start" fill="#000" stroke="#ffffff" stroke-width="0.5">L1/SiW</text>
<text x="1821.50 1852.07 1879.49 1894.37 1926.75 1940.41" y="885" font-size="48.58" text-anchor="start" fill="#000" stroke="#ffffff" stroke-width="0.5">L2/SiW</text>
<text x="2136.50 2167.57 2194.49 2209.37 2241.75 2255.41" y="885" font-size="48.58" text-anchor="start" fill="#000" stroke="#ffffff" stroke-width="0.5">L3/SiW</text>
<text transform="translate(1264,744.2) rotate(-90)" font-size="61" fill="#000" textLength="558" lengthAdjust="spacing">Shear strength (kPa)</text>
<text x="1840.1 1863 1907.6" y="72" font-size="69" text-anchor="start" fill="#000" >(b)</text>
</g>
</svg>
</body>
</html>
